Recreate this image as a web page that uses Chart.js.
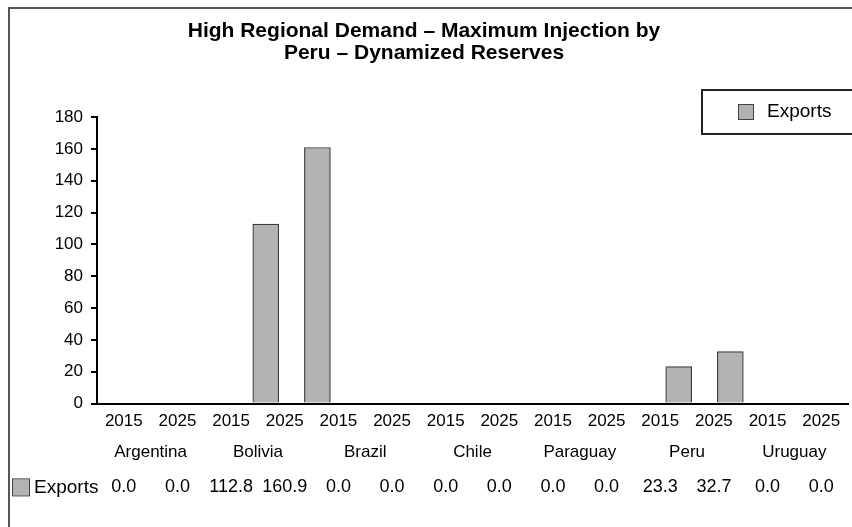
<!DOCTYPE html>
<html>
<head>
<meta charset="utf-8">
<script src="https://cdn.jsdelivr.net/npm/chart.js@4"></script>
<style>
  html, body { margin: 0; padding: 0; background: #fff; }
  #wrap { width: 852px; height: 527px; }
</style>
</head>
<body>
<div id="wrap"><canvas id="exportsCanvas" width="852" height="527"></canvas></div>
<script>
const countries = ['Argentina', 'Bolivia', 'Brazil', 'Chile', 'Paraguay', 'Peru', 'Uruguay'];
const years = ['2015', '2025'];
const exportValues = [0.0, 0.0, 112.8, 160.9, 0.0, 0.0, 0.0, 0.0, 0.0, 0.0, 23.3, 32.7, 0.0, 0.0];
const yTicks = [0, 20, 40, 60, 80, 100, 120, 140, 160, 180];
const seriesName = 'Exports';

// one year label per bar slot, one country per pair, and the table row
const yearLabels = countries.flatMap(() => years);
const tableLabels = exportValues.map(v => v.toFixed(1));

const FONT = "'Liberation Sans', Arial, sans-serif";
const BAR_FILL = '#b3b3b3';
const BAR_EDGE = '#3c3c3c';
const TABLE_PAD = 12;

// frame lines at top and left of the picture
const framePlugin = {
    id: 'frame',
    beforeDraw(chart) {
        const ctx = chart.ctx;
        ctx.save();
        ctx.fillStyle = '#fff';
        ctx.fillRect(0, 0, chart.width, chart.height);
        ctx.strokeStyle = '#555';
        ctx.lineWidth = 2;
        ctx.beginPath();
        ctx.moveTo(9, chart.height);
        ctx.lineTo(9, 8);
        ctx.lineTo(chart.width, 8);
        ctx.stroke();
        ctx.restore();
    }
};

// boxed legend at top right and the series key in the data table row
const keysPlugin = {
    id: 'keys',
    afterDraw(chart) {
        const ctx = chart.ctx;
        const label = chart.data.datasets[0].label;
        ctx.save();
        // legend box
        ctx.strokeStyle = '#222';
        ctx.lineWidth = 2;
        ctx.strokeRect(702, 90, 160, 44);
        ctx.fillStyle = BAR_FILL;
        ctx.fillRect(738, 104, 15, 15);
        ctx.strokeStyle = '#444';
        ctx.lineWidth = 1;
        ctx.strokeRect(738.5, 104.5, 15, 15);
        ctx.fillStyle = '#000';
        ctx.font = '19px ' + FONT;
        ctx.textBaseline = 'middle';
        ctx.fillText(label, 767, 112);
        // data table key
        const t = chart.scales.xt;
        const y = t.top + TABLE_PAD + 11;
        ctx.fillStyle = BAR_FILL;
        ctx.fillRect(13, y - 8, 16, 16);
        ctx.strokeStyle = '#444';
        ctx.strokeRect(12.5, y - 8.5, 17, 17);
        ctx.fillStyle = '#000';
        ctx.fillText(label, 34, y);
        ctx.restore();
    }
};

// bar slot i sits at this spot on the hidden index axis (bars drift right of the year labels)
const barMin = -1.27;
const barMax = 13.28;

const ctx = document.getElementById('exportsCanvas').getContext('2d');
const exportsChart = new Chart(ctx, {
    type: 'bar',
    data: {
        datasets: [{
            label: seriesName,
            data: exportValues.map((v, i) => ({ x: i, y: v })),
            xAxisID: 'xb',
            yAxisID: 'y',
            backgroundColor: BAR_FILL,
            borderColor: BAR_EDGE,
            borderWidth: 1.2,
            barThickness: 26
        }]
    },
    plugins: [framePlugin, keysPlugin],
    options: {
        responsive: false,
        animation: false,
        layout: {
            padding: { left: 0, right: 4, top: 0, bottom: 17 }
        },
        plugins: {
            legend: { display: false },
            tooltip: { enabled: false },
            title: {
                display: true,
                text: ['High Regional Demand \u2013 Maximum Injection by', 'Peru \u2013 Dynamized Reserves'],
                color: '#000',
                font: { family: FONT, size: 21, weight: 'bold', lineHeight: 1.05 },
                padding: { top: 20, bottom: 53 }
            }
        },
        scales: {
            xb: {
                type: 'linear',
                display: false,
                offset: false,
                min: barMin,
                max: barMax
            },
            x: {
                type: 'category',
                position: 'bottom',
                labels: yearLabels,
                offset: true,
                weight: 0,
                grid: { display: false, drawTicks: false },
                border: { display: true, color: '#000', width: 2 },
                ticks: {
                    color: '#000',
                    font: { family: FONT, size: 17 },
                    padding: 8,
                    maxRotation: 0,
                    autoSkip: false
                }
            },
            xc: {
                type: 'category',
                position: 'bottom',
                labels: countries,
                offset: true,
                weight: 1,
                grid: { display: false, drawTicks: false },
                border: { display: false },
                ticks: {
                    color: '#000',
                    font: { family: FONT, size: 17 },
                    padding: 2,
                    maxRotation: 0,
                    autoSkip: false
                }
            },
            xt: {
                type: 'category',
                position: 'bottom',
                labels: tableLabels,
                offset: true,
                weight: 2,
                grid: { display: false, drawTicks: false },
                border: { display: false },
                ticks: {
                    color: '#000',
                    font: { family: FONT, size: 18 },
                    padding: TABLE_PAD,
                    maxRotation: 0,
                    autoSkip: false
                }
            },
            y: {
                type: 'linear',
                position: 'left',
                min: 0,
                max: 180,
                afterBuildTicks(scale) {
                    scale.ticks = yTicks.map(v => ({ value: v }));
                },
                afterFit(scale) {
                    scale.width = 97;
                },
                grid: {
                    display: true,
                    drawOnChartArea: false,
                    drawTicks: true,
                    tickLength: 6,
                    color: '#000',
                    lineWidth: 2
                },
                border: { display: true, color: '#000', width: 2 },
                ticks: {
                    color: '#000',
                    font: { family: FONT, size: 17 },
                    padding: 8
                }
            }
        }
    }
});
</script>
</body>
</html>
